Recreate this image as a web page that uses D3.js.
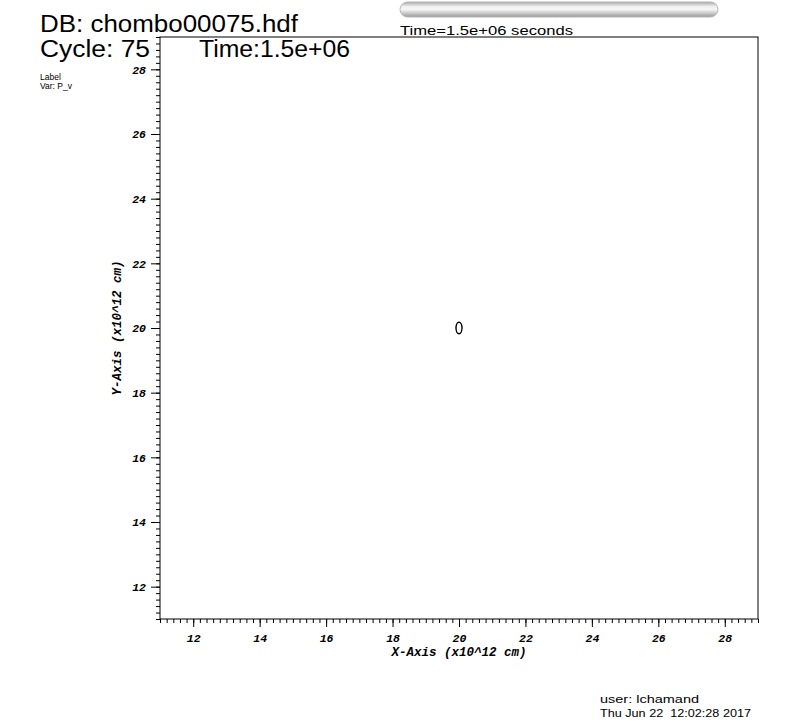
<!DOCTYPE html>
<html>
<head>
<meta charset="utf-8">
<script src="https://cdn.jsdelivr.net/npm/d3@7"></script>
<style>
  html, body { margin: 0; padding: 0; background: #fff; }
  svg { display: block; }
</style>
</head>
<body>
<svg id="chart" width="800" height="728"></svg>
<script>
// ---- data ----
const xDomain = [11, 29];
const yDomain = [11, 29];
const xTickLabels = [12, 14, 16, 18, 20, 22, 24, 26, 28];
const yTickLabels = [12, 14, 16, 18, 20, 22, 24, 26, 28];
const minorStep = 0.2;
const contourX = [20];
const contourY = [20];
const contourRx = [0.09];
const contourRy = [0.18];
const titleLines = ["DB: chombo00075.hdf", "Cycle: 75"];
const timeText = "Time:1.5e+06";
const sliderText = "Time=1.5e+06 seconds";
const legendLines = ["Label", "Var: P_v"];
const userLines = ["user: lchamand", "Thu Jun 22  12:02:28 2017"];
const xAxisTitle = "X-Axis (x10^12 cm)";
const yAxisTitle = "Y-Axis (x10^12 cm)";

// ---- layout ----
const svg = d3.select("#chart");
const L = 160, R = 758, T = 37, B = 619;
const x = d3.scaleLinear().domain(xDomain).range([L, R]);
const y = d3.scaleLinear().domain(yDomain).range([B, T]);

const minorTicks = d3.range(Math.round((xDomain[1] - xDomain[0]) / minorStep) + 1)
  .map(i => +(xDomain[0] + i * minorStep).toFixed(4));

const tickFont = "'Liberation Mono', 'DejaVu Sans Mono', monospace";
const textFont = "'Liberation Sans', Arial, sans-serif";

// frame
svg.append("rect")
  .attr("x", L).attr("y", T).attr("width", R - L).attr("height", B - T)
  .attr("fill", "none").attr("stroke", "#000").attr("stroke-width", 1);

// minor ticks
svg.append("g").attr("transform", `translate(0,${B})`)
  .call(d3.axisBottom(x).tickValues(minorTicks).tickSize(4).tickFormat(""))
  .call(g => g.select(".domain").remove())
  .selectAll("line").attr("stroke", "#000");
svg.append("g").attr("transform", `translate(${L},0)`)
  .call(d3.axisLeft(y).tickValues(minorTicks).tickSize(4).tickFormat(""))
  .call(g => g.select(".domain").remove())
  .selectAll("line").attr("stroke", "#000");

// major ticks + labels
const gx = svg.append("g").attr("transform", `translate(0,${B})`)
  .call(d3.axisBottom(x).tickValues(xTickLabels).tickSize(8).tickPadding(7).tickFormat(d3.format("d")))
  .call(g => g.select(".domain").remove());
gx.selectAll("line").attr("stroke", "#000");
gx.selectAll("text")
  .attr("font-family", tickFont).attr("font-size", 11.5)
  .attr("font-weight", "bold").attr("font-style", "italic").attr("fill", "#000");

const gy = svg.append("g").attr("transform", `translate(${L},0)`)
  .call(d3.axisLeft(y).tickValues(yTickLabels).tickSize(9).tickPadding(5).tickFormat(d3.format("d")))
  .call(g => g.select(".domain").remove());
gy.selectAll("line").attr("stroke", "#000");
gy.selectAll("text")
  .attr("font-family", tickFont).attr("font-size", 11.5)
  .attr("font-weight", "bold").attr("font-style", "italic").attr("fill", "#000");

// axis titles
svg.append("text")
  .attr("x", x(20)).attr("y", 656)
  .attr("text-anchor", "middle")
  .attr("font-family", tickFont).attr("font-size", 12.5)
  .attr("font-weight", "bold").attr("font-style", "italic")
  .text(xAxisTitle);
svg.append("text")
  .attr("transform", `translate(121,${y(20)}) rotate(-90)`)
  .attr("text-anchor", "middle")
  .attr("font-family", tickFont).attr("font-size", 12.5)
  .attr("font-weight", "bold").attr("font-style", "italic")
  .text(yAxisTitle);

// contour
svg.selectAll("ellipse.contour")
  .data(contourX.map((d, i) => ({ cx: d, cy: contourY[i], rx: contourRx[i], ry: contourRy[i] })))
  .join("ellipse").attr("class", "contour")
  .attr("cx", d => x(d.cx)).attr("cy", d => y(d.cy))
  .attr("rx", d => x(d.cx + d.rx) - x(d.cx))
  .attr("ry", d => y(d.cy) - y(d.cy + d.ry))
  .attr("fill", "none").attr("stroke", "#000").attr("stroke-width", 1.4);

// title texts
svg.append("text").attr("x", 40).attr("y", 32)
  .attr("font-family", textFont).attr("font-size", 23.5)
  .attr("textLength", 258).attr("lengthAdjust", "spacingAndGlyphs")
  .text(titleLines[0]);
svg.append("text").attr("x", 40).attr("y", 57)
  .attr("font-family", textFont).attr("font-size", 23.5)
  .attr("textLength", 110).attr("lengthAdjust", "spacingAndGlyphs")
  .text(titleLines[1]);
svg.append("text").attr("x", 199).attr("y", 57)
  .attr("font-family", textFont).attr("font-size", 23.5)
  .attr("textLength", 151).attr("lengthAdjust", "spacingAndGlyphs")
  .text(timeText);

// legend
legendLines.forEach((t, i) => {
  svg.append("text").attr("x", 40).attr("y", 80 + i * 9)
    .attr("font-family", textFont).attr("font-size", 8.5)
    .text(t);
});

// slider
const defs = svg.append("defs");
const grad = defs.append("linearGradient").attr("id", "sliderGrad")
  .attr("x1", 0).attr("y1", 0).attr("x2", 0).attr("y2", 1);
grad.append("stop").attr("offset", "0%").attr("stop-color", "#a9a9a9");
grad.append("stop").attr("offset", "30%").attr("stop-color", "#eeeeee");
grad.append("stop").attr("offset", "50%").attr("stop-color", "#f6f6f6");
grad.append("stop").attr("offset", "100%").attr("stop-color", "#9a9a9a");
svg.append("rect")
  .attr("x", 400).attr("y", 2).attr("width", 318).attr("height", 15).attr("rx", 7.5)
  .attr("fill", "url(#sliderGrad)").attr("stroke", "#b5b5b5").attr("stroke-width", 1);
svg.append("text").attr("x", 400).attr("y", 35)
  .attr("font-family", textFont).attr("font-size", 13.5)
  .attr("textLength", 173).attr("lengthAdjust", "spacingAndGlyphs")
  .text(sliderText);

// user info
svg.append("text").attr("x", 600).attr("y", 703)
  .attr("font-family", textFont).attr("font-size", 11.5)
  .attr("textLength", 99).attr("lengthAdjust", "spacingAndGlyphs")
  .text(userLines[0]);
svg.append("text").attr("x", 600).attr("y", 717)
  .attr("font-family", textFont).attr("font-size", 11.5)
  .attr("textLength", 151).attr("lengthAdjust", "spacingAndGlyphs")
  .attr("xml:space", "preserve")
  .text(userLines[1]);
</script>
</body>
</html>
